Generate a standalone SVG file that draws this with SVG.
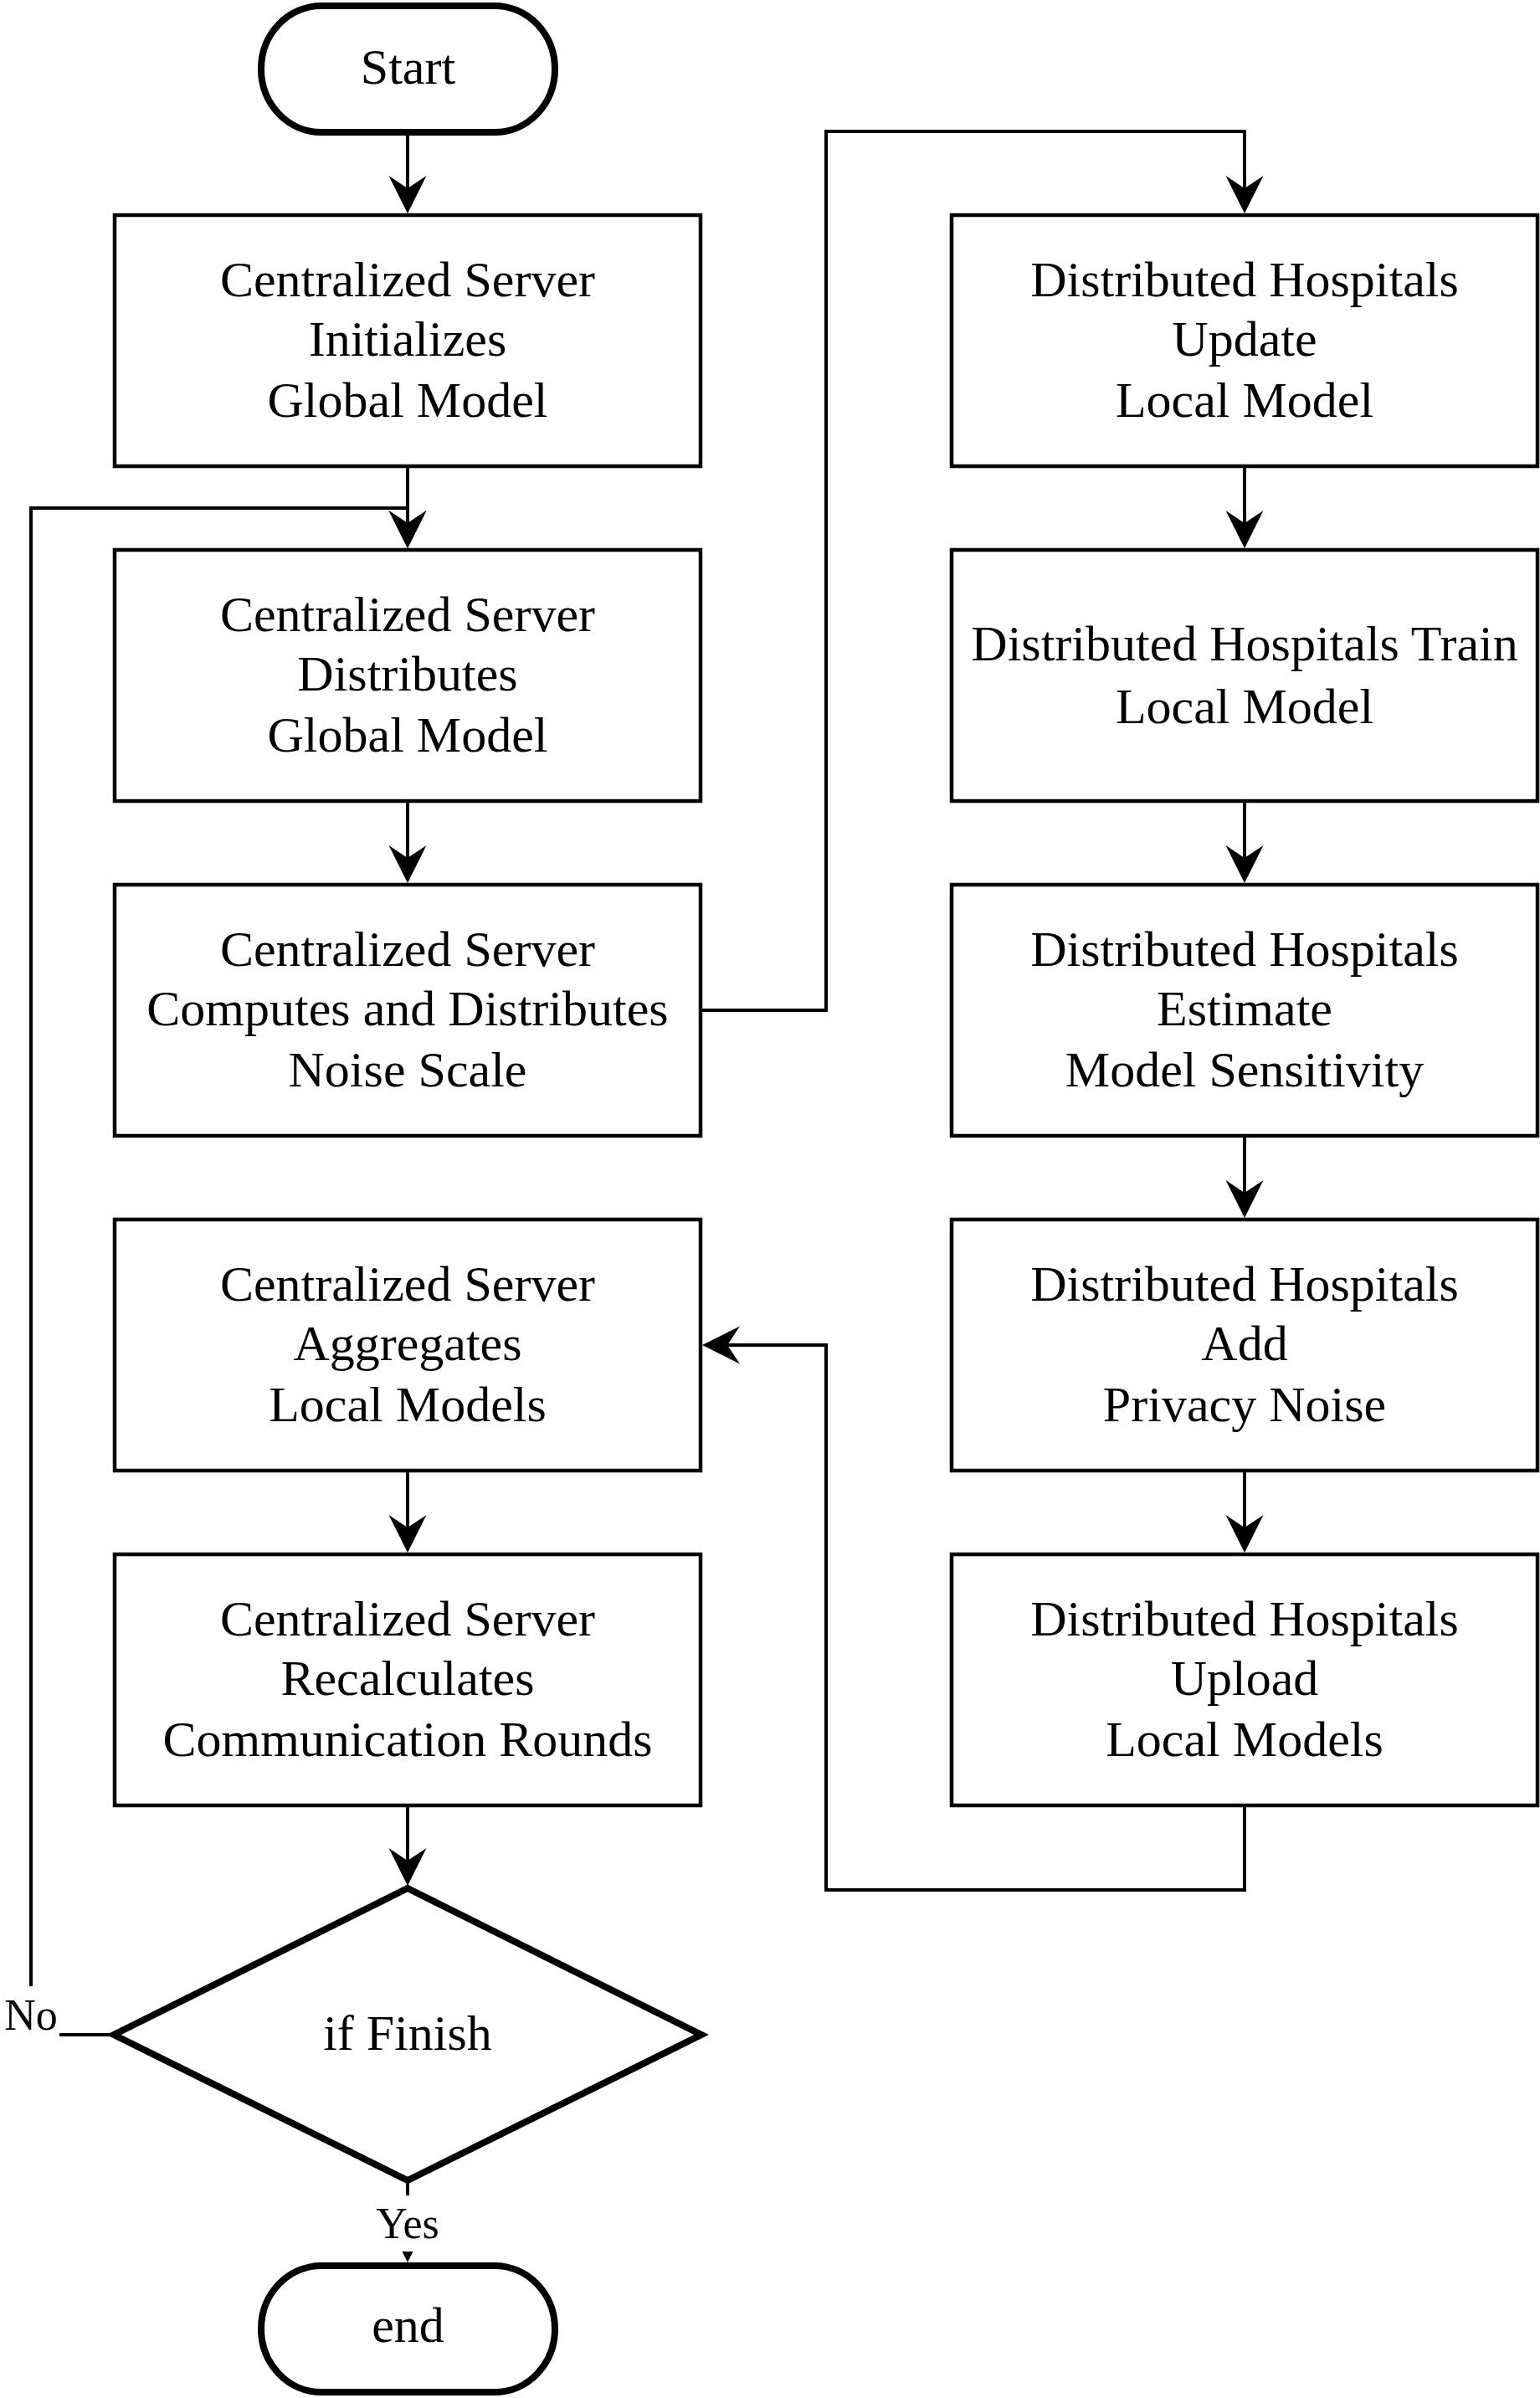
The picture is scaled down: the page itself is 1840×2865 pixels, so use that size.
<svg xmlns="http://www.w3.org/2000/svg" width="1840" height="2865" viewBox="0 0 1840 2865">
<style>
  .box { fill: #ffffff; stroke: #000000; stroke-width: 4.5; }
  .term { fill: #ffffff; stroke: #000000; stroke-width: 8; }
  .t { font-family: "Liberation Serif", "Times New Roman", serif; font-size: 60px; fill: #000000; text-anchor: middle; }
  .lbl { font-family: "Liberation Serif", "Times New Roman", serif; font-size: 52px; fill: #000000; text-anchor: middle; }
  .edge { fill: none; stroke: #000000; stroke-width: 4; stroke-linejoin: miter; }
</style>
<defs>
  <marker id="arr" markerUnits="userSpaceOnUse" markerWidth="50" markerHeight="50" viewBox="0 -25 50 50" refX="15" refY="0" orient="auto">
    <path d="M0,-22.5 L45,0 L0,22.5 L15,0 Z" fill="#000000"/>
  </marker>
</defs>
<rect x="0" y="0" width="1840" height="2865" fill="#ffffff"/>

<g id="connectors">
  <path class="edge" d="M487,162 V225" marker-end="url(#arr)"/>
  <path class="edge" d="M487,557 V625" marker-end="url(#arr)"/>
  <path class="edge" d="M136,2431 H37 V607 H487 V625" marker-end="url(#arr)"/>
  <path class="edge" d="M487,957 V1025" marker-end="url(#arr)"/>
  <path class="edge" d="M837,1207 H987 V157 H1487 V225" marker-end="url(#arr)"/>
  <path class="edge" d="M1487,557 V625" marker-end="url(#arr)"/>
  <path class="edge" d="M1487,957 V1025" marker-end="url(#arr)"/>
  <path class="edge" d="M1487,1357 V1425" marker-end="url(#arr)"/>
  <path class="edge" d="M1487,1757 V1825" marker-end="url(#arr)"/>
  <path class="edge" d="M1487,2157 V2258 H987 V1607 H869" marker-end="url(#arr)"/>
  <path class="edge" d="M487,1757 V1825" marker-end="url(#arr)"/>
  <path class="edge" d="M487,2157 V2223" marker-end="url(#arr)"/>
  <path class="edge" d="M487,2605 V2673" marker-end="url(#arr)"/>
  <g id="label-no">
    <rect x="4" y="2373" width="67" height="67" fill="#ffffff"/>
    <text class="lbl" x="37" y="2425">No</text>
  </g>
  <g id="label-yes">
    <rect x="446" y="2623" width="82" height="67" fill="#ffffff"/>
    <text class="lbl" x="487" y="2674">Yes</text>
  </g>
</g>

<g id="start">
  <rect class="term" x="312" y="7" width="351" height="151" rx="72" ry="75.5"/>
  <text class="t" x="487.5" y="100">Start</text>
</g>

<g id="cs-init">
  <rect class="box" x="137" y="257" width="700" height="300"/>
  <text class="t" x="487" y="354">Centralized Server</text>
  <text class="t" x="487" y="425">Initializes</text>
  <text class="t" x="487" y="498">Global Model</text>
</g>

<g id="cs-distribute">
  <rect class="box" x="137" y="657" width="700" height="300"/>
  <text class="t" x="487" y="754">Centralized Server</text>
  <text class="t" x="487" y="825">Distributes</text>
  <text class="t" x="487" y="898">Global Model</text>
</g>

<g id="cs-noise">
  <rect class="box" x="137" y="1057" width="700" height="300"/>
  <text class="t" x="487" y="1154">Centralized Server</text>
  <text class="t" x="487" y="1225">Computes and Distributes</text>
  <text class="t" x="487" y="1298">Noise Scale</text>
</g>

<g id="cs-aggregate">
  <rect class="box" x="137" y="1457" width="700" height="300"/>
  <text class="t" x="487" y="1554">Centralized Server</text>
  <text class="t" x="487" y="1625">Aggregates</text>
  <text class="t" x="487" y="1698">Local Models</text>
</g>

<g id="cs-recalc">
  <rect class="box" x="137" y="1857" width="700" height="300"/>
  <text class="t" x="487" y="1954">Centralized Server</text>
  <text class="t" x="487" y="2025">Recalculates</text>
  <text class="t" x="487" y="2098">Communication Rounds</text>
</g>

<g id="dh-update">
  <rect class="box" x="1137" y="257" width="700" height="300"/>
  <text class="t" x="1487" y="354">Distributed Hospitals</text>
  <text class="t" x="1487" y="425">Update</text>
  <text class="t" x="1487" y="498">Local Model</text>
</g>

<g id="dh-train">
  <rect class="box" x="1137" y="657" width="700" height="300"/>
  <text class="t" x="1487" y="789">Distributed Hospitals Train</text>
  <text class="t" x="1487" y="864">Local Model</text>
</g>

<g id="dh-estimate">
  <rect class="box" x="1137" y="1057" width="700" height="300"/>
  <text class="t" x="1487" y="1154">Distributed Hospitals</text>
  <text class="t" x="1487" y="1225">Estimate</text>
  <text class="t" x="1487" y="1298">Model Sensitivity</text>
</g>

<g id="dh-noise">
  <rect class="box" x="1137" y="1457" width="700" height="300"/>
  <text class="t" x="1487" y="1554">Distributed Hospitals</text>
  <text class="t" x="1487" y="1625">Add</text>
  <text class="t" x="1487" y="1698">Privacy Noise</text>
</g>

<g id="dh-upload">
  <rect class="box" x="1137" y="1857" width="700" height="300"/>
  <text class="t" x="1487" y="1954">Distributed Hospitals</text>
  <text class="t" x="1487" y="2025">Upload</text>
  <text class="t" x="1487" y="2098">Local Models</text>
</g>

<g id="decision">
  <polygon class="term" points="487,2256 838,2431 487,2605 136,2431"/>
  <text class="t" x="487" y="2449">if Finish</text>
</g>

<g id="end">
  <rect class="term" x="312" y="2707" width="351" height="151" rx="72" ry="75.5"/>
  <text class="t" x="487.5" y="2798">end</text>
</g>
</svg>
